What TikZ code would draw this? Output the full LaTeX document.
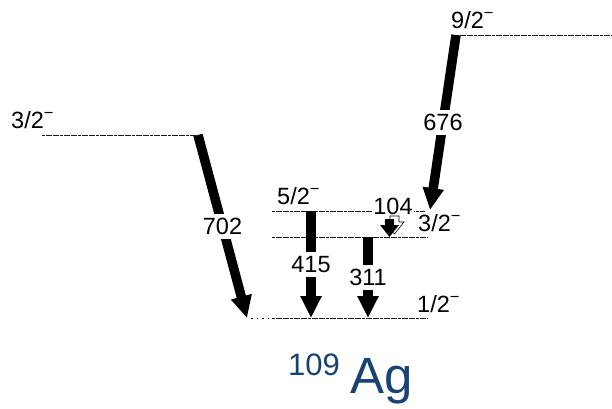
\documentclass[tikz,border=0pt]{standalone}
\usepackage{fontspec}
\setmainfont{Liberation Sans}
\usetikzlibrary{arrows.meta,positioning,calc}
\definecolor{nucblue}{HTML}{1A4272}
\newcommand{\minus}{\textsuperscript{\char"2212}}
\tikzset{
  level/.style={line width=1pt, dash pattern=on 3pt off 0.6pt, black!90},
  gam/.style={line width=9.5pt, -{Triangle[width=20pt,length=22pt]}},
  glab/.style={fill=white, inner xsep=1pt, inner ysep=4pt, font=\fontsize{23.5}{24}\selectfont},
  spin/.style={anchor=base west, inner sep=0pt, font=\fontsize{23.5}{24}\selectfont}
}
\begin{document}
\begin{tikzpicture}[x=1pt,y=-1pt]
  \useasboundingbox (0,0) rectangle (612,408);
  % level ends
  \coordinate (a0) at (42,135);   \coordinate (a1) at (198,135);
  \coordinate (b0) at (456,35);   \coordinate (b1) at (612,35);
  \coordinate (c0) at (272,211);  \coordinate (c1) at (425,211);
  \coordinate (d0) at (272,237);  \coordinate (d1) at (428,237);
  \coordinate (g0) at (272,318);  \coordinate (g1) at (428,318);
  % levels
  \draw[level] (a0) -- (a1);
  \draw[level] (b0) -- (b1);
  \draw[level] (c0) -- (c1);
  \draw[level] (d0) -- (d1);
  \draw[level] (g0) -- (g1);
  \draw[line width=1pt, dash pattern=on 1.5pt off 4pt] (251,318) -- (g0);
  % spins
  \node[spin] (s1) at (11,128) {3/2\minus};
  \node[spin] (s2) at (451,28) {9/2\minus};
  \node[spin] (s3) at (277,204) {5/2\minus};
  \node[spin] (s4) at (418,231) {3/2\minus};
  \node[spin] (s5) at (417,312) {1/2\minus};
  % transitions
  \draw[gam] (a1) -- node[glab] {702} (247,318);
  \draw[gam] (b0) -- node[glab] {676} (430,210);
  \draw[gam] (311,211) -- node[glab] {415} (311,318);
  \draw[gam] (368,237) -- node[glab] {311} (368,318);
  \node[glab, inner ysep=1pt] (e104) at (393,206) {104};
  % 104 with its outline
  \draw[fill=white, line width=0.6pt, shift={(5,-3)}]
    (385,219) -- (394,219) -- (394,225) -- (399,225) -- (389.5,237) -- (380,225) -- (385,225) -- cycle;
  \fill (385,219) -- (394,219) -- (394,225) -- (399,225) -- (389.5,237) -- (380,225) -- (385,225) -- cycle;
  % nucleus
  \node[anchor=base west, inner sep=0pt, text=nucblue] (iso) at (288,393)
    {\raisebox{18pt}{\fontsize{31}{31}\selectfont 109}\hspace{11pt}\fontsize{51}{51}\selectfont Ag};
\end{tikzpicture}
\end{document}
